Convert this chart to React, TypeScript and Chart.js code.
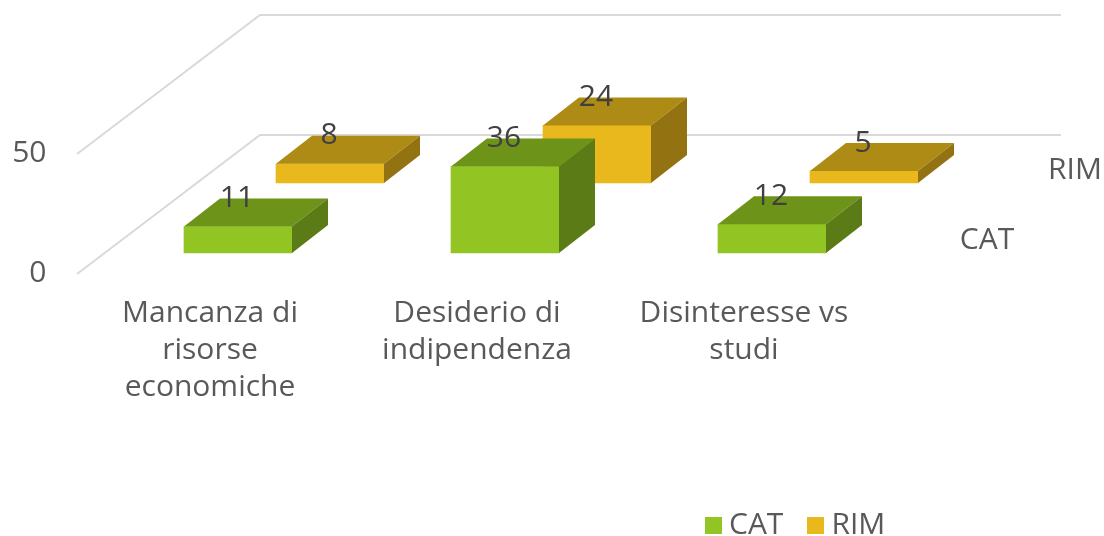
import React, { useEffect, useRef } from "react";
import { Chart, registerables } from "chart.js";

Chart.register(...registerables);

const categories = [["Mancanza di", "risorse", "economiche"], ["Desiderio di", "indipendenza"], ["Disinteresse vs", "studi"]];
const seriesNames = ["CAT", "RIM"];
const catValues = [11, 36, 12];
const rimValues = [8, 24, 5];
const yTicks = [0, 50];

const FONT = "'Open Sans', Lato, sans-serif";
const SIZE = 30;
const TEXT = "#595959";
const LABEL = "#404040";
const GRID = "#D9D9D9";

const FRONT = ["#92C423", "#E8B81C"];
const TOP = ["#6D9319", "#AE8B15"];
const SIDE = ["#5A7B15", "#937311"];

// position of each series row in the 3D depth of the plot
const ROW_SHIFT = [{ x: 28, y: -20 }, { x: 120, y: -90 }];
const ROW_LABEL = [{ x: 987, y: 240 }, { x: 1075, y: 170 }];
const DEPTH = { x: 36, y: -28 };

const swatch = (color: string) => {
  const c = document.createElement("canvas");
  c.width = 17;
  c.height = 17;
  const g = c.getContext("2d")!;
  g.fillStyle = color;
  g.fillRect(0, 0, 17, 17);
  return c;
};

const poly = (ctx: CanvasRenderingContext2D, color: string, pts: number[][]) => {
  ctx.fillStyle = color;
  ctx.beginPath();
  pts.forEach(([x, y], i) => (i ? ctx.lineTo(x, y) : ctx.moveTo(x, y)));
  ctx.closePath();
  ctx.fill();
};

const box3d = {
  id: "box3d",
  beforeDatasetsDraw(chart: any) {
    const { ctx, scales, chartArea } = chart;
    ctx.save();
    ctx.strokeStyle = GRID;
    ctx.lineWidth = 2;
    yTicks.forEach((t) => {
      const y = scales.y.getPixelForValue(t) + 1;
      ctx.beginPath();
      ctx.moveTo(chartArea.left + 0.5, y);
      ctx.lineTo(260, y - 139);
      ctx.lineTo(1061, y - 139);
      ctx.stroke();
    });
    ctx.restore();
  },
  beforeDatasetDraw(chart: any, args: any) {
    const s = ROW_SHIFT[args.index];
    chart.ctx.save();
    chart.ctx.translate(s.x, s.y);
  },
  afterDatasetDraw(chart: any, args: any) {
    const { ctx } = chart;
    const i = args.index;
    args.meta.data.forEach((el: any) => {
      const l = el.x - el.width / 2;
      const r = el.x + el.width / 2;
      const t = el.y;
      const b = el.base;
      poly(ctx, TOP[i], [[l, t], [r, t], [r + DEPTH.x, t + DEPTH.y], [l + DEPTH.x, t + DEPTH.y]]);
      poly(ctx, SIDE[i], [[r, t], [r + DEPTH.x, t + DEPTH.y], [r + DEPTH.x, b + DEPTH.y], [r, b]]);
    });
    ctx.restore();
  },
  afterDatasetsDraw(chart: any) {
    const { ctx } = chart;
    ctx.save();
    ctx.font = `${SIZE}px ${FONT}`;
    ctx.textAlign = "center";
    ctx.textBaseline = "middle";
    chart.data.datasets.forEach((ds: any, i: number) => {
      const s = ROW_SHIFT[i];
      ctx.fillStyle = LABEL;
      chart.getDatasetMeta(i).data.forEach((el: any, j: number) => {
        ctx.fillText(String(ds.data[j]), el.x + s.x - 1, el.y + s.y - 28);
      });
      ctx.fillStyle = TEXT;
      ctx.fillText(ds.label, ROW_LABEL[i].x, ROW_LABEL[i].y);
    });
    ctx.restore();
  },
  afterLayout(chart: any) {
    const lg = chart.legend;
    lg.left = 681;
    lg.right = 1104;
    lg.width = 423;
    lg.top = 478;
  },
};

export default function App() {
  const ref = useRef<HTMLCanvasElement>(null);
  useEffect(() => {
    const chart = new Chart(ref.current!, {
      type: "bar",
      data: {
        labels: categories as any,
        datasets: [
          { label: seriesNames[0], data: catValues, backgroundColor: FRONT[0] },
          { label: seriesNames[1], data: rimValues, backgroundColor: FRONT[1] },
        ].map((d) => ({ ...d, borderWidth: 0, barThickness: 108, grouped: false, clip: false })) as any,
      },
      options: {
        responsive: false,
        animation: false,
        events: [],
        layout: { padding: { left: 0, right: 226.5, top: 153, bottom: 0 } },
        scales: {
          x: {
            grid: { display: false },
            border: { display: false },
            ticks: {
              color: TEXT,
              font: { family: FONT, size: SIZE, lineHeight: 37 / SIZE },
              autoSkip: false,
              maxRotation: 0,
              minRotation: 0,
              padding: 14,
            },
            afterFit(s: any) {
              s.height = 191;
            },
          },
          y: {
            min: 0,
            max: 50,
            grid: { display: false },
            border: { display: false },
            afterBuildTicks(s: any) {
              s.ticks = yTicks.map((value) => ({ value }));
            },
            ticks: { color: TEXT, font: { family: FONT, size: SIZE }, padding: 22 },
            afterFit(s: any) {
              s.width = 76.5;
            },
          },
        },
        plugins: {
          tooltip: { enabled: false },
          title: { display: false },
          legend: {
            position: "bottom",
            align: "start",
            labels: {
              color: TEXT,
              font: { family: FONT, size: SIZE },
              usePointStyle: true,
              pointStyleWidth: 1,
              padding: 32,
              generateLabels(c: any) {
                const items = Chart.defaults.plugins.legend.labels.generateLabels(c);
                items.forEach((it: any, i: number) => {
                  it.pointStyle = swatch(FRONT[i]);
                });
                return items;
              },
            },
          },
        },
      },
      plugins: [box3d],
    } as any);
    return () => chart.destroy();
  }, []);
  return (
    <div style={{ position: "fixed", left: 0, top: 0, width: 1104, height: 536, background: "#fff" }}>
      <canvas ref={ref} width={1104} height={536} style={{ display: "block" }} />
    </div>
  );
}
